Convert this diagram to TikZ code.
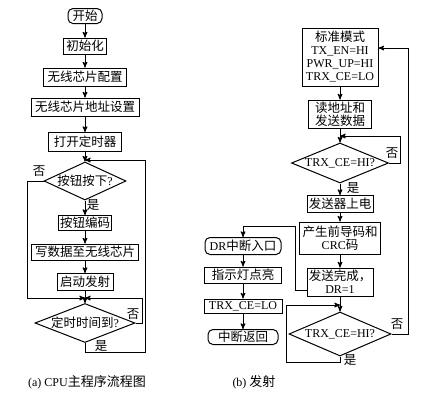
\documentclass[tikz,border=0pt]{standalone}
\usepackage{fontspec}
\setmainfont{Liberation Serif}
\newfontfamily\cjk{Noto Sans CJK SC}
\newcommand{\eng}[1]{{\rmfamily\fontsize{12}{13}\selectfont #1}}
\usetikzlibrary{arrows,shapes,calc}

\begin{document}
\begin{tikzpicture}[
      x=1pt,y=-1pt,
      >=stealth',
      line width=1pt,
      font=\cjk\fontsize{12.5}{13}\selectfont,
      box/.style={draw,rectangle,inner sep=1.5,minimum height=16,align=center},
      term/.style={draw,rectangle,rounded corners=5,inner sep=1.5,minimum height=16},
      decision/.style={draw,diamond,aspect=2.4,inner sep=0},
      lbl/.style={inner sep=0},
      caption/.style={inner sep=0,font=\cjk\fontsize{13}{15}\selectfont}
    ]
    \path[fill=white] (0,0) rectangle (431,400);

    % (a) main program
    \node[term,minimum width=34,minimum height=15] (start) at (85,16) {开始};
    \node[box,minimum width=43] (init) at (85,46) {初始化};
    \node[box,minimum width=83,minimum height=18] (cfg) at (85,77) {无线芯片配置};
    \node[box,minimum width=108,minimum height=18] (addr) at (85,107) {无线芯片地址设置};
    \node[box,minimum width=73,minimum height=19] (timer) at (85,142) {打开定时器};
    \node[decision,aspect=2.2,minimum width=82,minimum height=38] (key) at (85,181) {按钮按下\eng{?}};
    \node[box,minimum width=45,minimum height=15] (code) at (85,223) {按钮编码};
    \node[box,minimum width=107] (write) at (85,252) {写数据至无线芯片};
    \node[box,minimum width=56,minimum height=17] (send) at (85,282) {启动发射};
    \node[decision,aspect=2.6,minimum width=100,minimum height=39] (tmo) at (85,323) {定时时间到\eng{?}};

    \coordinate (j1) at (85,160);
    \coordinate (j2) at (85,298);
    \coordinate (r1) at (145,352);

    \node[lbl] (no1) at (39,171) {否};
    \node[lbl] (yes1) at (93,205) {是};
    \node[lbl] (no2) at (133,314) {否};
    \node[lbl] (yes2) at (101,346) {是};

    \path[->]
      (start) edge (init)
      (init) edge (cfg)
      (cfg) edge (addr)
      (addr) edge (timer)
      (timer) edge (key)
      (key) edge (code)
      (code) edge (write)
      (write) edge (send)
      (send) edge (tmo)
      ;
    \draw[->] (key.west) -- ++(-16,0) |- (j2);
    \draw[->] (tmo.east) -- ++(7,0) |- (j2);
    \draw[->] (tmo.south) |- (r1) |- (j1);

    % (b) transmitter
    \node[box,minimum width=76,minimum height=58] (mode) at (340,57)
      {标准模式\\\eng{TX\_EN=HI}\\\eng{PWR\_UP=HI}\\\eng{TRX\_CE=LO}};
    \node[box,minimum width=63,minimum height=28] (read) at (340,114) {读地址和\\发送数据};
    \node[decision,minimum width=97,minimum height=40] (ce1) at (340,163) {\eng{TRX\_CE=HI?}};
    \node[box,minimum width=66,minimum height=17] (power) at (340,204) {发送器上电};
    \node[box,minimum width=81,minimum height=32] (crc) at (340,238) {产生前导码和\\\eng{CRC}码};
    \node[box,minimum width=66,minimum height=28] (done) at (340,282) {发送完成，\\\eng{DR=1}};
    \node[decision,minimum width=102,minimum height=44] (ce2) at (340,334) {\eng{TRX\_CE=HI?}};

    \coordinate (j3) at (340,136);
    \coordinate (j4) at (340,305);
    \coordinate (b1) at (286,362);
    \coordinate (t1) at (295,226);

    \node[lbl] (no3) at (392,153) {否};
    \node[lbl] (yes3) at (353,188) {是};
    \node[lbl] (no4) at (397,324) {否};
    \node[lbl] (yes4) at (350,360) {是};

    % interrupt
    \node[term,minimum width=76,minimum height=17] (dr) at (243,246) {\eng{DR}中断入口};
    \node[box,minimum width=77] (led) at (243,275) {指示灯点亮};
    \node[box,minimum width=78,minimum height=14] (lo) at (243,306) {\eng{TRX\_CE=LO}};
    \node[term,minimum width=70,minimum height=15] (ret) at (243,337) {中断返回};

    \path[->]
      (mode) edge (read)
      (read) edge (ce1)
      (ce1) edge (power)
      (power) edge (crc)
      (crc) edge (done)
      (done) edge (ce2)
      (dr) edge (led)
      (led) edge (lo)
      (lo) edge (ret)
      ;
    \draw[->] (ce1.east) -- ++(11,0) |- (j3);
    \draw[->] (ce2.east) -- ++(17,0) |- ([yshift=9]mode.east);
    \draw[->] (ce2.south) |- (b1) |- (j4);
    \draw[->] ([yshift=-8]done.west) -| (t1) -| (dr.north);

    \node[caption] (capa) at (87,382) {\eng{(a) CPU}主程序流程图};
    \node[caption,anchor=west] (capb) at (232,382) {\eng{(b)} 发射};
  \end{tikzpicture}
\end{document}
